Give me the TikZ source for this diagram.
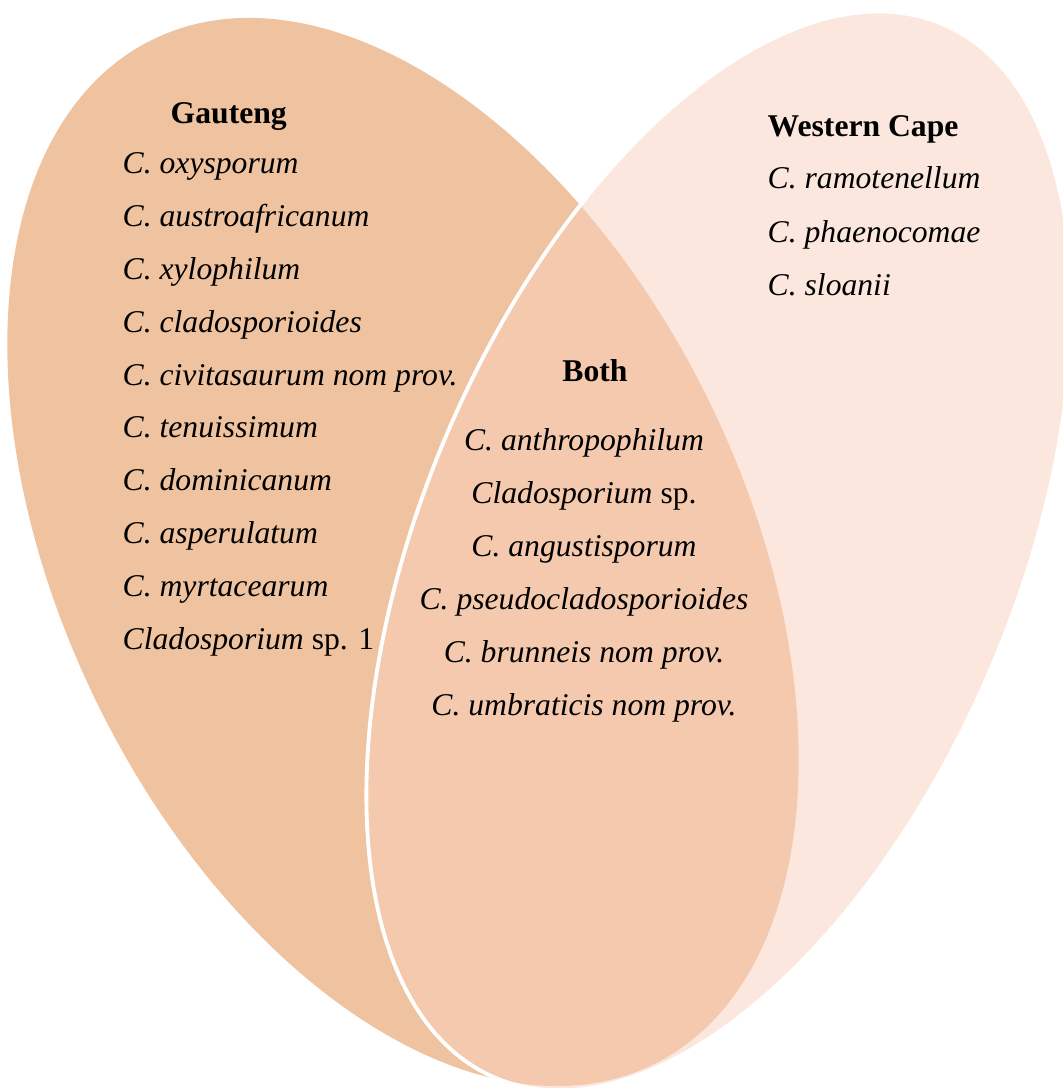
\documentclass[tikz,border=0pt]{standalone}
\usepackage{fontspec}
\setmainfont{Liberation Serif}
\definecolor{gautengfill}{HTML}{EFC3A0}
\definecolor{capefill}{HTML}{F9CFBD}
\tikzset{
  label base/.style={inner sep=0pt, font=\fontsize{9}{11}\selectfont},
  heading/.style={label base, anchor=base west, font=\fontsize{9}{11}\selectfont\bfseries},
  species/.style={label base, anchor=base west, font=\fontsize{9}{11}\selectfont\itshape},
  shared/.style={label base, anchor=base, font=\fontsize{9}{11}\selectfont\itshape},
}
\begin{document}
\begin{tikzpicture}[x=0.01cm,y=-0.01cm]
      \useasboundingbox (0,0) rectangle (1062,1088);
      % the two sets
      \fill[gautengfill, rotate around={26:(403,552)}] (403,552) ellipse [x radius=3.41cm, y radius=5.70cm];
      \filldraw[fill=capefill, fill opacity=0.5, draw=white, line width=1.1pt, rotate around={-23:(719,551)}] (719,551) ellipse [x radius=2.96cm, y radius=5.72cm];
      % Gauteng only
      \node[heading] (gauteng) at (170,124) {Gauteng};
      \node[species] (g1) at (122,173) {C. oxysporum};
      \node[species] (g2) at (122,226) {C. austroafricanum};
      \node[species] (g3) at (122,279) {C. xylophilum};
      \node[species] (g4) at (122,332) {C. cladosporioides};
      \node[species] (g5) at (122,385) {C. civitasaurum nom prov.};
      \node[species] (g6) at (122,437) {C. tenuissimum};
      \node[species] (g7) at (122,490) {C. dominicanum};
      \node[species] (g8) at (122,543) {C. asperulatum};
      \node[species] (g9) at (122,596) {C. myrtacearum};
      \node[species] (g10) at (122,649) {Cladosporium \upshape sp. 1};
      % Western Cape only
      \node[heading] (cape) at (767,137) {Western Cape};
      \node[species] (w1) at (767,189) {C. ramotenellum};
      \node[species] (w2) at (767,242) {C. phaenocomae};
      \node[species] (w3) at (767,295) {C. sloanii};
      % found in both
      \node[heading, anchor=base] (both) at (595,381) {Both};
      \node[shared] (b1) at (584,450) {C. anthropophilum};
      \node[shared] (b2) at (584,503) {Cladosporium \upshape sp.};
      \node[shared] (b3) at (584,556) {C. angustisporum};
      \node[shared] (b4) at (584,609) {C. pseudocladosporioides};
      \node[shared] (b5) at (584,662) {C. brunneis nom prov.};
      \node[shared] (b6) at (584,715) {C. umbraticis nom prov.};
    \end{tikzpicture}
\end{document}
